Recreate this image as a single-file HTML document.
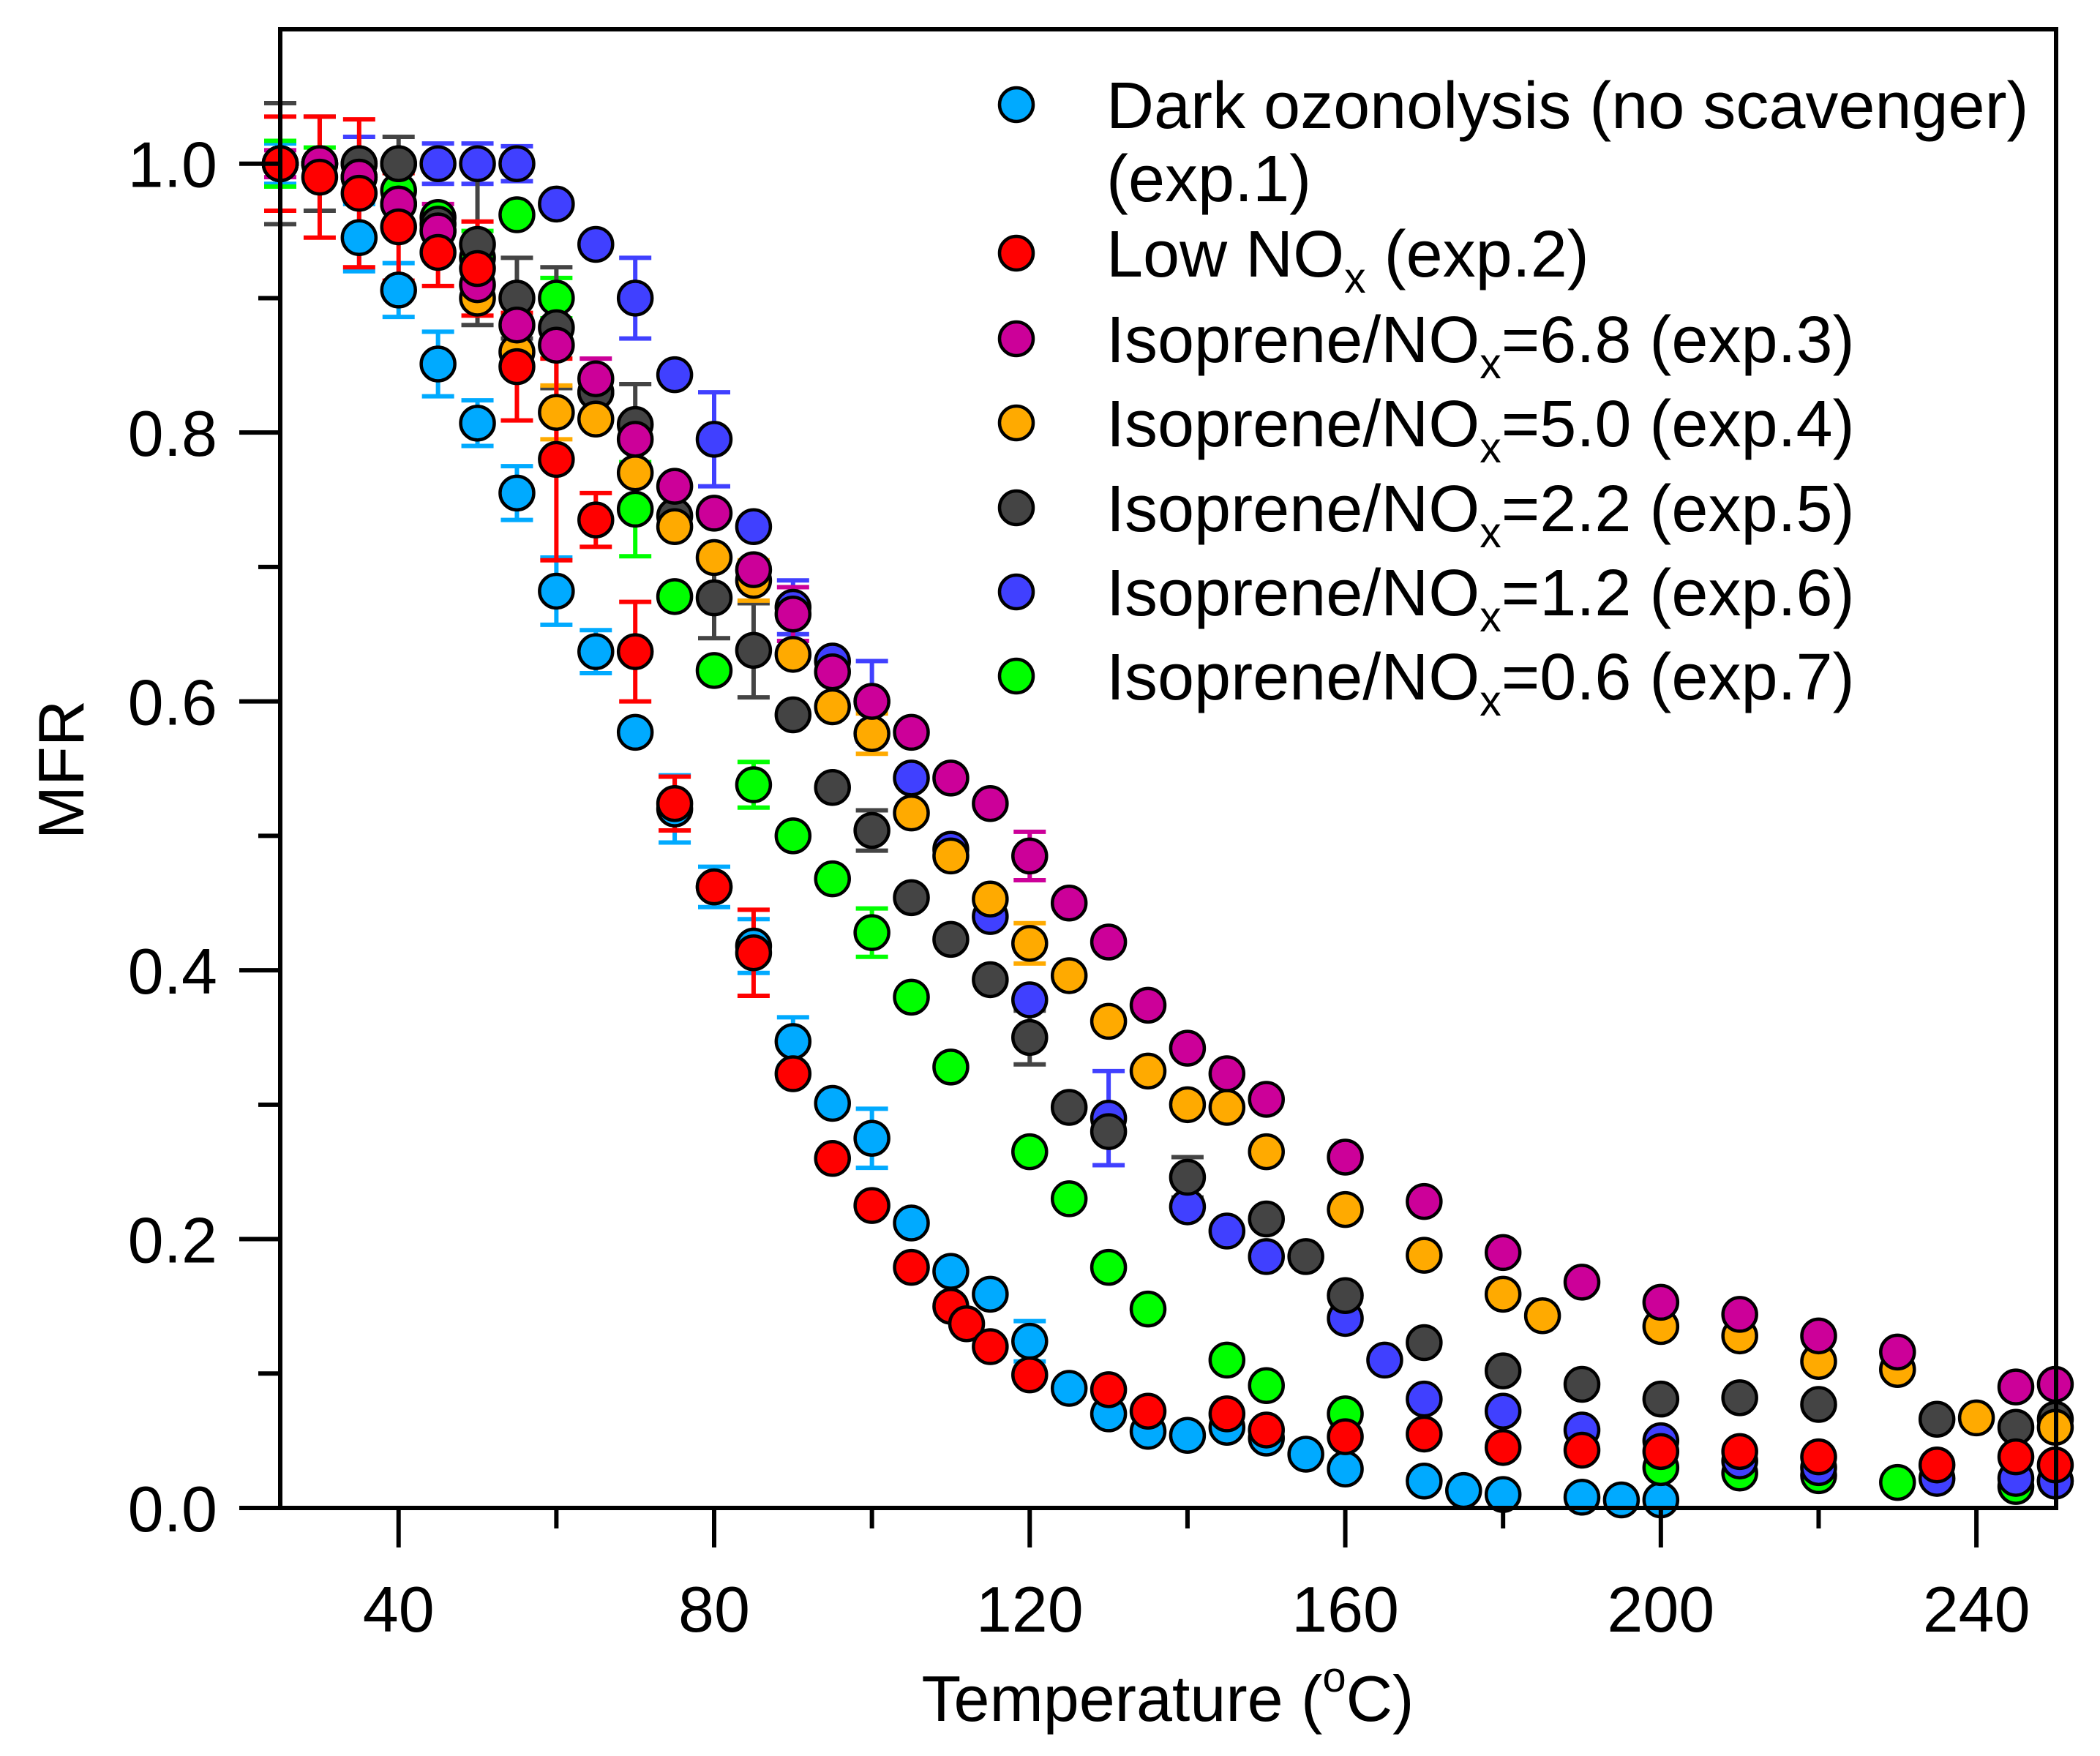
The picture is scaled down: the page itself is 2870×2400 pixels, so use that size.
<!DOCTYPE html>
<html><head><meta charset="utf-8"><style>
html,body{margin:0;padding:0;background:#fff}
svg{display:block}
text{font-family:"Liberation Sans",Arial,sans-serif;fill:#000}
</style></head><body>
<svg id="chart" width="2870" height="2400" viewBox="0 0 2870 2400" xmlns="http://www.w3.org/2000/svg">
<g id="errs"></g>
<g id="pts"></g>
<g id="axes"></g>
<g id="legend"></g>
</svg>
<script>
const xTicks=[40,80,120,160,200,240];
const yTicks=[0,0.2,0.4,0.6,0.8,1.0];
const cyanX=[25,30,35,40,45,50,55,60,65,70,75,80,85,90,95,100,105,110,115,120,125,130,135,140,145,150,155,160,170,175,180,190,195,200];
const cyanY=[1.0,1.0,0.945,0.906,0.851,0.807,0.755,0.682,0.637,0.577,0.52,0.462,0.418,0.347,0.301,0.275,0.212,0.176,0.159,0.124,0.089,0.07,0.057,0.054,0.06,0.052,0.04,0.029,0.02,0.013,0.01,0.008,0.006,0.006];
const cyanErrX=[25,35,40,45,50,55,60,65,75,80,85,90,100,120];
const cyanErrV=[0.015,0.025,0.02,0.024,0.017,0.02,0.025,0.016,0.025,0.015,0.02,0.018,0.022,0.015];
const greenX=[25,30,35,40,45,50,55,60,65,70,75,80,85,90,95,100,105,110,120,125,130,135,145,150,160,200,210,220,230,245,250];
const greenY=[1.0,1.0,0.99,0.98,0.96,0.93,0.962,0.9,0.83,0.743,0.678,0.623,0.538,0.5,0.468,0.428,0.38,0.328,0.265,0.23,0.179,0.148,0.11,0.091,0.07,0.03,0.026,0.024,0.019,0.016,0.02];
const greenErrX=[25,30,50,60,70,85,100];
const greenErrV=[0.017,0.012,0.02,0.015,0.035,0.017,0.018];
const blueX=[25,30,35,40,45,50,55,60,65,70,75,80,85,90,95,100,105,110,115,120,130,140,145,150,160,165,170,180,190,200,210,220,235,245,250];
const blueY=[1.0,1.0,1.0,1.0,1.0,1.0,1.0,0.97,0.94,0.9,0.843,0.795,0.73,0.67,0.63,0.6,0.543,0.49,0.44,0.378,0.29,0.224,0.206,0.187,0.141,0.11,0.081,0.072,0.058,0.05,0.035,0.03,0.022,0.022,0.02];
const blueErrX=[35,45,50,55,70,80,90,100,130];
const blueErrV=[0.02,0.015,0.015,0.013,0.03,0.035,0.02,0.03,0.035];
const grayX=[25,30,35,40,45,50,55,60,65,70,75,80,85,90,95,100,105,110,115,120,125,130,140,150,155,160,170,180,190,200,210,220,235,245,250];
const grayY=[1.0,1.0,1.0,1.0,0.955,0.94,0.9,0.878,0.83,0.806,0.738,0.677,0.638,0.59,0.536,0.504,0.454,0.423,0.393,0.35,0.298,0.28,0.246,0.215,0.187,0.158,0.123,0.102,0.092,0.081,0.082,0.077,0.066,0.06,0.066];
const grayErrX=[25,30,40,50,55,60,70,80,85,100,120,140];
const grayErrV=[0.045,0.035,0.02,0.06,0.03,0.045,0.03,0.03,0.035,0.015,0.02,0.015];
const orangeX=[25,30,35,40,45,50,55,60,65,70,75,80,85,90,95,100,105,110,115,120,125,130,135,140,145,150,160,170,180,185,200,210,220,230,240,250];
const orangeY=[1.0,1.0,0.99,0.97,0.95,0.9,0.86,0.815,0.81,0.77,0.73,0.707,0.69,0.635,0.596,0.576,0.517,0.485,0.453,0.42,0.396,0.362,0.325,0.3,0.298,0.265,0.222,0.188,0.159,0.143,0.135,0.128,0.109,0.103,0.067,0.06];
const orangeErrX=[60,85,100,120];
const orangeErrV=[0.02,0.015,0.015,0.015];
const magentaX=[25,30,35,40,45,50,55,60,65,70,75,80,85,90,95,100,105,110,115,120,125,130,135,140,145,150,160,170,180,190,200,210,220,230,245,250];
const magentaY=[1.0,1.0,0.99,0.97,0.95,0.91,0.88,0.865,0.84,0.795,0.76,0.74,0.698,0.665,0.622,0.6,0.577,0.543,0.524,0.485,0.45,0.421,0.374,0.342,0.323,0.304,0.261,0.228,0.19,0.168,0.153,0.144,0.128,0.116,0.09,0.092];
const magentaErrX=[25,45,65,90,120];
const magentaErrV=[0.01,0.02,0.015,0.02,0.018];
const redX=[25,30,35,40,45,50,55,60,65,70,75,80,85,90,95,100,105,110,112,115,120,130,135,145,150,160,170,180,190,200,210,220,235,245,250];
const redY=[1.0,0.99,0.978,0.953,0.934,0.922,0.849,0.78,0.735,0.637,0.524,0.462,0.413,0.323,0.26,0.225,0.179,0.15,0.137,0.12,0.099,0.088,0.072,0.07,0.058,0.053,0.055,0.045,0.043,0.042,0.042,0.038,0.032,0.038,0.032];
const redErrX=[25,30,35,40,45,50,55,60,65,70,75,85];
const redErrV=[0.035,0.045,0.055,0.04,0.025,0.035,0.04,0.075,0.02,0.037,0.02,0.032];

const L=383,R=2810,T=40,B=2061,XMIN=25,XMAX=250.1,YMIN=0,YMAX=1.1;
function sx(v){return L+(v-XMIN)/(XMAX-XMIN)*(R-L);}
function sy(v){return B-(v-YMIN)/(YMAX-YMIN)*(B-T);}
const NS='http://www.w3.org/2000/svg';
function mk(tag,attrs,parent){const e=document.createElementNS(NS,tag);for(const k in attrs)e.setAttribute(k,attrs[k]);parent.appendChild(e);return e;}
const series=[
 {key:'dark-ozonolysis',color:'#00AAFF',x:cyanX,y:cyanY,ex:cyanErrX,ev:cyanErrV},
 {key:'isoprene-nox-0-6',color:'#00FF00',x:greenX,y:greenY,ex:greenErrX,ev:greenErrV},
 {key:'isoprene-nox-1-2',color:'#4040FF',x:blueX,y:blueY,ex:blueErrX,ev:blueErrV},
 {key:'isoprene-nox-2-2',color:'#444444',x:grayX,y:grayY,ex:grayErrX,ev:grayErrV},
 {key:'isoprene-nox-5-0',color:'#FFAA00',x:orangeX,y:orangeY,ex:orangeErrX,ev:orangeErrV},
 {key:'isoprene-nox-6-8',color:'#CC0099',x:magentaX,y:magentaY,ex:magentaErrX,ev:magentaErrV},
 {key:'low-nox',color:'#FF0000',x:redX,y:redY,ex:redErrX,ev:redErrV}
];
const errs=document.getElementById('errs'),pts=document.getElementById('pts');
series.forEach(s=>{
 s.ex.forEach((xv,i)=>{
  const j=s.x.indexOf(xv); if(j<0)return;
  const yv=s.y[j],e=s.ev[i];
  const g=mk('g',{stroke:s.color,'stroke-width':6},errs);
  
  
  mk('line',{x1:sx(xv),x2:sx(xv),y1:sy(yv+e),y2:sy(yv-e)},g);
  mk('line',{x1:sx(xv)-22,x2:sx(xv)+22,y1:sy(yv+e),y2:sy(yv+e)},g);
  mk('line',{x1:sx(xv)-22,x2:sx(xv)+22,y1:sy(yv-e),y2:sy(yv-e)},g);
 });
});
series.forEach(s=>{
 s.x.forEach((xv,i)=>{
  const c=mk('circle',{cx:sx(xv),cy:sy(s.y[i]),r:23,fill:s.color,stroke:'#000','stroke-width':4.5},pts);
  
  
 });
});
const ax=document.getElementById('axes');
const frame=mk('path',{d:`M${L} ${T}H${R}V${B}H${L}Z`,fill:'none',stroke:'#000','stroke-width':6},ax);


for(let v=40;v<=240;v+=20){
 const maj=v%40===0;
 mk('line',{x1:sx(v),x2:sx(v),y1:B,y2:B+(maj?54:28),stroke:'#000','stroke-width':6},ax);
}
xTicks.forEach(v=>{
 const t=mk('text',{x:sx(v),y:2230,'font-size':88,'text-anchor':'middle'},ax);
 t.textContent=v;
 
 
});
for(let k=0;k<=10;k++){
 const v=k/10,maj=k%2===0;
 mk('line',{x1:L-(maj?56:30),x2:L,y1:sy(v),y2:sy(v),stroke:'#000','stroke-width':6},ax);
}
yTicks.forEach(v=>{
 const t=mk('text',{x:297,y:sy(v)+32,'font-size':88,'text-anchor':'end'},ax);
 t.textContent=v.toFixed(1);
 
 
});
const xt=mk('text',{x:1596,y:2352,'font-size':88,'text-anchor':'middle'},ax);
xt.innerHTML='Temperature (<tspan font-size="58" dy="-40">o</tspan><tspan dy="40">C)</tspan>';


const yt=mk('text',{x:0,y:0,'font-size':88,'text-anchor':'middle',transform:'translate(114,1052) rotate(-90)'},ax);
yt.textContent='MFR';


const lg=document.getElementById('legend');
const legColors=['#00AAFF','#FF0000','#CC0099','#FFAA00','#444444','#4040FF','#00FF00'];
const legY=[143,346,463,578,694,809,924];
const legLabels=['Dark ozonolysis (no scavenger)','Low NO|x| (exp.2)','Isoprene/NO|x|=6.8 (exp.3)','Isoprene/NO|x|=5.0 (exp.4)','Isoprene/NO|x|=2.2 (exp.5)','Isoprene/NO|x|=1.2 (exp.6)','Isoprene/NO|x|=0.6 (exp.7)'];
legLabels.forEach((lab,i)=>{
 const g=mk('g',{},lg);
 
 
 mk('circle',{cx:1389,cy:legY[i],r:23,fill:legColors[i],stroke:'#000','stroke-width':4.5},g);
 const t=mk('text',{x:1512,y:legY[i]+32,'font-size':90},g);
 const p=lab.split('|');
 if(p.length===1)t.textContent=lab;
 else t.innerHTML=p[0]+'<tspan font-size="59" dy="22">'+p[1]+'</tspan><tspan dy="-22">'+p[2]+'</tspan>';
});
const ex1=mk('text',{x:1512,y:275,'font-size':90},lg);
ex1.textContent='(exp.1)';


</script>
</body></html>
